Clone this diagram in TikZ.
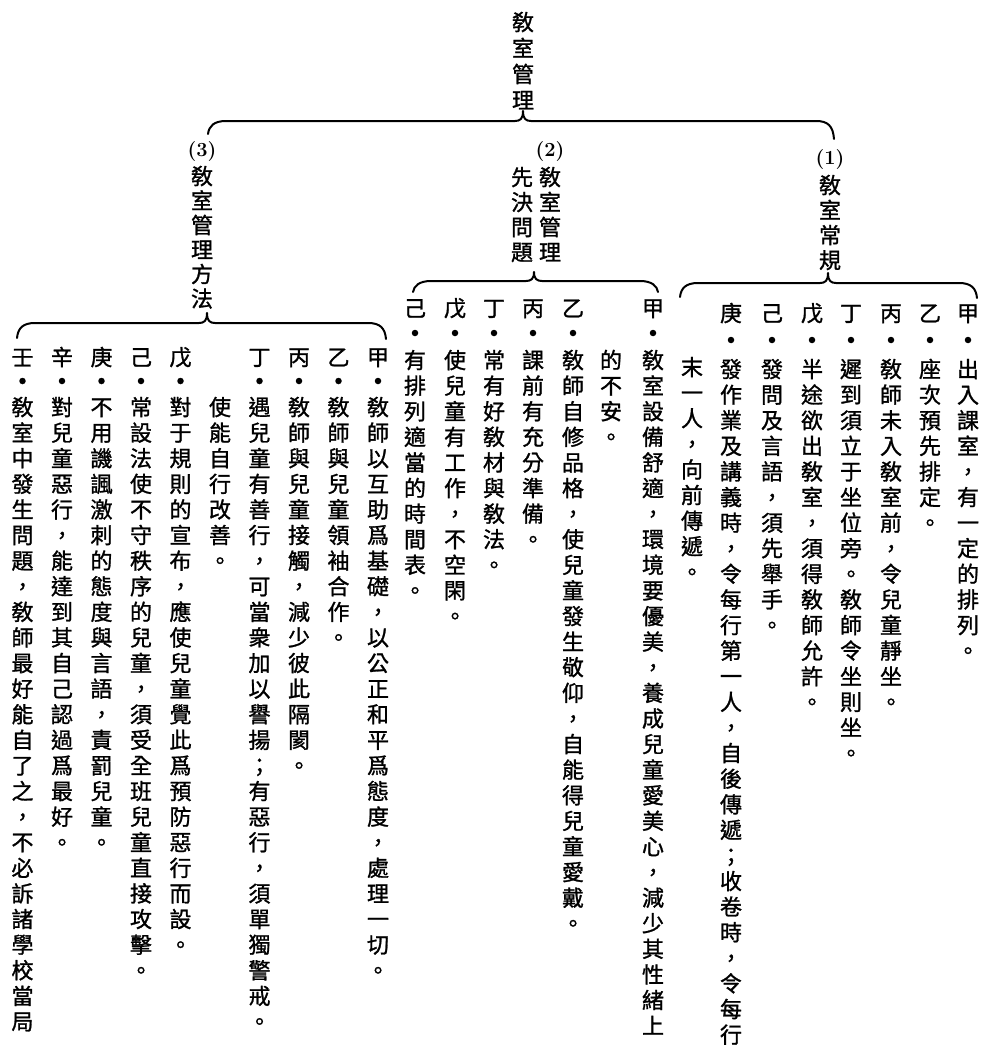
\documentclass[tikz,border=0pt]{standalone}
\usepackage{fontspec}
\newfontfamily\cjk[FakeBold=1.2]{Noto Sans CJK TC}
\newlength\vpitch
\setlength\vpitch{25.6pt}
\def\vcolend{\vcolend}
\def\vcol#1{\vbox{\offinterlineskip\vcolloop#1\vcolend}}
\def\vcolloop#1{\ifx#1\vcolend\else\hbox to 24pt{\hss\vrule height \dimexpr\vpitch/2+8.4pt\relax depth \dimexpr\vpitch/2-8.4pt\relax width 0pt\relax #1\hss}\expandafter\vcolloop\fi}
% vertical column: [pitch]{name}{x,y of first char centre}{text}
\newcommand\vc[4][25.6]{\node[colnode, yshift=#1pt/2] (#2) at (#3) {\setlength\vpitch{#1pt}\vcol{#4}};}
% item: name, x, y label, y dot, y text, label, text
\newcommand\itm[7]{%
  \vc{#1h}{#2,#3}{#6}
  \node[bulletdot] (#1d) at (#2,#4) {};
  \vc{#1t}{#2,#5}{#7}}
% brace: xl, yl, yline, xtip, ytip, xr, yr
\newcommand\brc[7]{%
  \draw[bracestyle] (#1,#2) .. controls (#1+1,#3+5) and (#1+6,#3) .. (#1+18,#3)
    -- (#4-8,#3) .. controls (#4-3,#3) and (#4,#3-2) .. (#4,#5)
    .. controls (#4,#3-2) and (#4+3,#3) .. (#4+8,#3)
    -- (#6-18,#3) .. controls (#6-6,#3) and (#6-1,#3+5) .. (#6,#7);}
\begin{document}
\begin{tikzpicture}[x=1pt,y=-1pt,
  every node/.style={inner sep=0pt, outer sep=0pt},
  colnode/.style={anchor=north, font=\cjk\fontsize{22pt}{26pt}\selectfont},
  bulletdot/.style={circle, fill=black, minimum size=6.5pt},
  numlab/.style={font=\fontsize{20pt}{20pt}\selectfont\bfseries},
  bracestyle/.style={line width=2pt, line cap=round, line join=round}]
\useasboundingbox (0,0) rectangle (985,1049);

% title
\vc[26]{title}{523,22}{敎室管理}
\brc{208}{134}{121}{523}{111}{834}{139}

% headers
\node[numlab] (n1) at (830,160) {(1)};
\vc[25]{h1}{830,185}{敎室常規}
\node[numlab] (n2) at (550,152) {(2)};
\vc[25]{h2a}{550,177}{敎室管理}
\vc[25]{h2b}{522,177}{先決問題}
\node[numlab] (n3) at (202,152) {(3)};
\vc[24.5]{h3}{202,176}{敎室管理方法}

% braces under headers
\brc{680}{297}{283}{828}{273}{977}{298}
\brc{413}{292}{281}{534}{272}{658}{292}
\brc{17}{338}{323}{207}{313}{386}{339}

% section 1
\itm{sAa}{968}{313}{340}{369}{甲}{出入課室，有一定的排列。}
\itm{sAb}{930}{313}{340}{369}{乙}{座次預先排定。}
\itm{sAc}{891}{313}{340}{369}{丙}{敎師未入敎室前，令兒童靜坐。}
\itm{sAd}{851}{313}{340}{369}{丁}{遲到須立于坐位旁。敎師令坐則坐。}
\itm{sAe}{812}{313}{340}{369}{戊}{半途欲出敎室，須得敎師允許。}
\itm{sAf}{772}{313}{340}{369}{己}{發問及言語，須先舉手。}
\itm{sAg}{731}{313}{340}{369}{庚}{發作業及講義時，令每行第一人，自後傳遞；收卷時，令每行}
\vc{sAgc}{692,367}{末一人，向前傳遞。}

% section 2
\itm{sBa}{653}{308}{333}{360}{甲}{敎室設備舒適，環境要優美，養成兒童愛美心，減少其性緒上}
\vc{sBac}{611,360}{的不安。}
\itm{sBb}{573}{308}{333}{360}{乙}{敎師自修品格，使兒童發生敬仰，自能得兒童愛戴。}
\itm{sBc}{533}{308}{333}{360}{丙}{課前有充分準備。}
\itm{sBd}{494}{308}{333}{360}{丁}{常有好敎材與敎法。}
\itm{sBe}{455}{308}{333}{360}{戊}{使兒童有工作，不空閑。}
\itm{sBf}{415}{308}{333}{360}{己}{有排列適當的時間表。}

% section 3
\itm{sCa}{378}{357}{381}{407}{甲}{敎師以互助爲基礎，以公正和平爲態度，處理一切。}
\itm{sCb}{338.5}{357}{381}{407}{乙}{敎師與兒童領袖合作。}
\itm{sCc}{299}{357}{381}{407}{丙}{敎師與兒童接觸，減少彼此隔閡。}
\itm{sCd}{259.5}{357}{381}{407}{丁}{遇兒童有善行，可當衆加以譽揚；有惡行，須單獨警戒。}
\vc{sCdc}{220,407}{使能自行改善。}
\itm{sCe}{180.5}{357}{381}{407}{戊}{對于規則的宣布，應使兒童覺此爲預防惡行而設。}
\itm{sCf}{141}{357}{381}{407}{己}{常設法使不守秩序的兒童，須受全班兒童直接攻擊。}
\itm{sCg}{101.5}{357}{381}{407}{庚}{不用譏諷激刺的態度與言語，責罰兒童。}
\itm{sCh}{62}{357}{381}{407}{辛}{對兒童惡行，能達到其自己認過爲最好。}
\itm{sCi}{22.5}{357}{381}{407}{壬}{敎室中發生問題，敎師最好能自了之，不必訴諸學校當局}
\end{tikzpicture}
\end{document}
